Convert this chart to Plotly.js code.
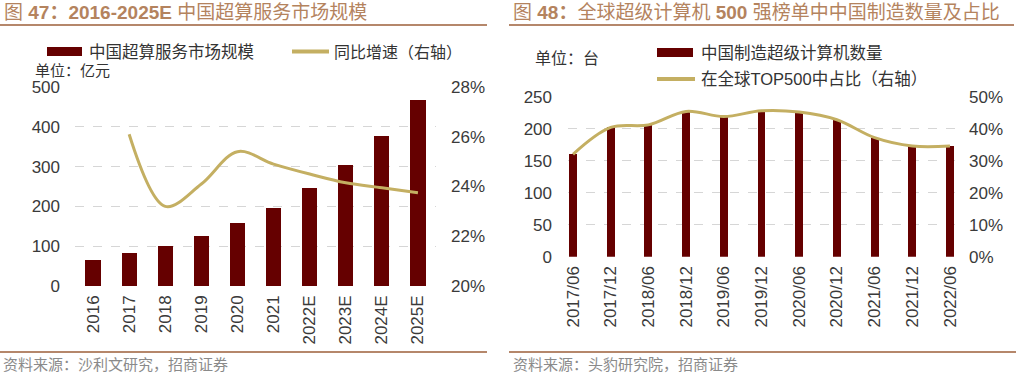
<!DOCTYPE html>
<html>
<head>
<meta charset="utf-8">
<script src="https://cdn.plot.ly/plotly-3.0.1.min.js"></script>
<style>html,body{margin:0;padding:0;background:#fff;}#chart{width:1016px;height:377px;}</style>
</head>
<body>
<div id="chart"></div>
<script>
// ---- Left chart data ----
const leftYears = ["2016","2017","2018","2019","2020","2021","2022E","2023E","2024E","2025E"];
const leftMarket = [65, 82, 100, 126, 159, 196, 246, 304, 377, 467];           // 亿元
const leftGrowthYears = ["2017","2018","2019","2020","2021","2022E","2023E","2024E","2025E"];
const leftGrowth = [0.261, 0.232, 0.241, 0.254, 0.249, 0.245, 0.2415, 0.2395, 0.2375];

// ---- Right chart data ----
const rightPeriods = ["2017/06","2017/12","2018/06","2018/12","2019/06","2019/12","2020/06","2020/12","2021/06","2021/12","2022/06"];
const rightCount = [160, 202, 206, 227, 219, 228, 226, 214, 186, 173, 173];   // 台
const rightShare = [0.32, 0.404, 0.412, 0.454, 0.438, 0.456, 0.452, 0.428, 0.372, 0.346, 0.346];

// ---- Text ----
const titleLeft = "图 <b>47：2016-2025E</b> 中国超算服务市场规模";
const titleRight = "图 <b>48：</b>全球超级计算机 <b>500</b> 强榜单中中国制造数量及占比";
const legLeftBar = "中国超算服务市场规模";
const legLeftLine = "同比增速（右轴）";
const unitLeft = "单位：亿元";
const legRightBar = "中国制造超级计算机数量";
const legRightLine = "在全球TOP500中占比（右轴）";
const unitRight = "单位：台";
const sourceLeft = "资料来源：沙利文研究，招商证券";
const sourceRight = "资料来源：头豹研究院，招商证券";

const W = 1016, H = 377;
const px = x => x / W;
const py = y => 1 - y / H;

const BAR = "#650000";
const LINE = "#C4AF62";
const FONT = "Liberation Sans, Noto Sans CJK SC, sans-serif";
const TICK = {family: FONT, size: 17, color: "#3a3a3a"};
const GRID = "#d6d6d6";

const traces = [
  {type: "bar", x: leftYears, y: leftMarket, xaxis: "x", yaxis: "y",
   marker: {color: BAR}, width: 0.42, showlegend: false, hoverinfo: "skip"},
  {type: "scatter", mode: "lines", x: leftGrowthYears, y: leftGrowth, xaxis: "x", yaxis: "y2",
   line: {color: LINE, width: 3, shape: "spline", smoothing: 1}, showlegend: false, hoverinfo: "skip"},
  {type: "bar", x: rightPeriods, y: rightCount, xaxis: "x2", yaxis: "y3",
   marker: {color: BAR}, width: 0.21, showlegend: false, hoverinfo: "skip"},
  {type: "scatter", mode: "lines", x: rightPeriods, y: rightShare, xaxis: "x2", yaxis: "y4",
   line: {color: LINE, width: 3, shape: "spline", smoothing: 1}, showlegend: false, hoverinfo: "skip"}
];

const yAxisCommon = {showgrid: false, zeroline: false, showline: false, ticks: "", tickfont: TICK, fixedrange: true};

const layout = {
  width: W, height: H,
  margin: {l: 0, r: 0, t: 0, b: 0},
  paper_bgcolor: "#fff", plot_bgcolor: "rgba(0,0,0,0)",
  font: {family: FONT},
  bargap: 0,
  xaxis: {domain: [px(75), px(436)], anchor: "y", type: "category", range: [-0.5, 9.5],
          tickangle: -90, tickfont: TICK, showline: false, ticks: "", showgrid: false, zeroline: false,
          ticklabelstandoff: 5},
  yaxis: Object.assign({}, yAxisCommon, {domain: [py(286), py(87)], anchor: "x", range: [0, 500], dtick: 100,
          showgrid: true, gridcolor: GRID, griddash: "dash", gridwidth: 1, ticklabelstandoff: 14}),
  yaxis2: Object.assign({}, yAxisCommon, {overlaying: "y", side: "right", anchor: "x", range: [0.20, 0.28],
          dtick: 0.02, tickformat: ".0%", ticklabelstandoff: 14}),
  xaxis2: {domain: [px(568), px(955)], anchor: "y3", type: "category", range: [-0.133, 10.133],
          tickangle: -90, tickfont: TICK, showline: false, ticks: "", showgrid: false, zeroline: false,
          ticklabelstandoff: 5},
  yaxis3: Object.assign({}, yAxisCommon, {domain: [py(256.7), py(96.7)], anchor: "x2", range: [0, 250], dtick: 50,
          showgrid: true, gridcolor: GRID, griddash: "dash", gridwidth: 1, ticklabelstandoff: 15}),
  yaxis4: Object.assign({}, yAxisCommon, {overlaying: "y3", side: "right", anchor: "x2", range: [0, 0.5],
          dtick: 0.1, tickformat: ".0%", ticklabelstandoff: 13}),
  shapes: [
    // title underlines
    {type: "line", xref: "paper", yref: "paper", x0: px(0), x1: px(487), y0: py(25), y1: py(25), line: {color: "#B5876B", width: 2}},
    {type: "line", xref: "paper", yref: "paper", x0: px(509), x1: px(1014), y0: py(25), y1: py(25), line: {color: "#B5876B", width: 2}},
    // source lines
    {type: "line", xref: "paper", yref: "paper", x0: px(0), x1: px(487), y0: py(352), y1: py(352), line: {color: "#B5876B", width: 2}},
    {type: "line", xref: "paper", yref: "paper", x0: px(509), x1: px(1016), y0: py(352), y1: py(352), line: {color: "#B5876B", width: 2}},
    // legend swatches left
    {type: "rect", xref: "paper", yref: "paper", x0: px(47), x1: px(82), y0: py(56), y1: py(47), fillcolor: BAR, line: {width: 0}},
    {type: "line", xref: "paper", yref: "paper", x0: px(292), x1: px(329), y0: py(51.5), y1: py(51.5), line: {color: LINE, width: 4}},
    // legend swatches right
    {type: "rect", xref: "paper", yref: "paper", x0: px(657), x1: px(693), y0: py(57), y1: py(48), fillcolor: BAR, line: {width: 0}},
    {type: "line", xref: "paper", yref: "paper", x0: px(657), x1: px(695), y0: py(79), y1: py(79), line: {color: LINE, width: 4}}
  ],
  annotations: [
    {text: titleLeft, xref: "paper", yref: "paper", x: px(2), y: py(13), xanchor: "left", yanchor: "middle",
     showarrow: false, font: {family: FONT, size: 19, color: "#B4835E"}},
    {text: titleRight, xref: "paper", yref: "paper", x: px(511), y: py(13), xanchor: "left", yanchor: "middle",
     showarrow: false, font: {family: FONT, size: 19, color: "#B4835E"}},
    {text: legLeftBar, xref: "paper", yref: "paper", x: px(87), y: py(52), xanchor: "left", yanchor: "middle",
     showarrow: false, font: {family: FONT, size: 16.5, color: "#333"}},
    {text: legLeftLine, xref: "paper", yref: "paper", x: px(332), y: py(52), xanchor: "left", yanchor: "middle",
     showarrow: false, font: {family: FONT, size: 16, color: "#333"}},
    {text: unitLeft, xref: "paper", yref: "paper", x: px(33), y: py(70), xanchor: "left", yanchor: "middle",
     showarrow: false, font: {family: FONT, size: 15, color: "#333"}},
    {text: legRightBar, xref: "paper", yref: "paper", x: px(699), y: py(53), xanchor: "left", yanchor: "middle",
     showarrow: false, font: {family: FONT, size: 16.5, color: "#333"}},
    {text: legRightLine, xref: "paper", yref: "paper", x: px(699), y: py(79), xanchor: "left", yanchor: "middle",
     showarrow: false, font: {family: FONT, size: 16.5, color: "#333"}},
    {text: unitRight, xref: "paper", yref: "paper", x: px(533), y: py(58), xanchor: "left", yanchor: "middle",
     showarrow: false, font: {family: FONT, size: 16, color: "#333"}},
    {text: sourceLeft, xref: "paper", yref: "paper", x: px(1), y: py(364), xanchor: "left", yanchor: "middle",
     showarrow: false, font: {family: FONT, size: 15, color: "#8a8a8a"}},
    {text: sourceRight, xref: "paper", yref: "paper", x: px(511), y: py(364), xanchor: "left", yanchor: "middle",
     showarrow: false, font: {family: FONT, size: 15, color: "#8a8a8a"}}
  ]
};

Plotly.newPlot("chart", traces, layout, {staticPlot: true, displayModeBar: false});
</script>
</body>
</html>
